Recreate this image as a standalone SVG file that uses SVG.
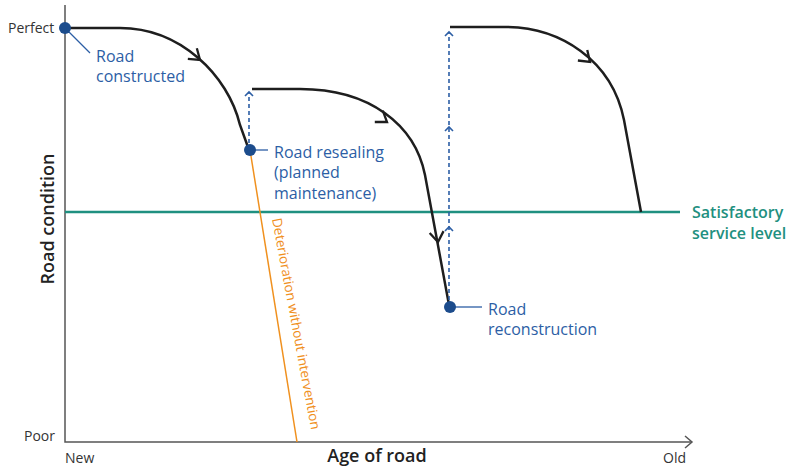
<svg xmlns="http://www.w3.org/2000/svg" xmlns:xlink="http://www.w3.org/1999/xlink" width="789" height="467" viewBox="0 0 789 467">
<style>
text{font-family:"Open Sans","Noto Sans","Liberation Sans",sans-serif}
.ax{fill:none;stroke:#555;stroke-width:1.5}
.lab{fill:#333;font-size:14px}
.blue{fill:#2c5ea5;font-size:16px}
.curve{fill:none;stroke:#1e1e1e;stroke-width:2.5}
.dash{fill:none;stroke:#2c5ea5;stroke-width:1.6;stroke-dasharray:4 3}
.dchev{fill:none;stroke:#2c5ea5;stroke-width:1.6}
.lead{fill:none;stroke:#2c5ea5;stroke-width:1.3}
.dot{fill:#1c4c8c}
.title{fill:#222;font-size:18px;font-weight:600}
.green{fill:#1f9080;font-size:16px;font-weight:600}
</style>
<defs>
<path id="chev" d="M-10,-7 L0,0 L-10,7" fill="none" stroke="#1e1e1e" stroke-width="2.3"/>
<path id="upchev" d="M-4,4 L0,0 L4,4" class="dchev"/>
</defs>
<g id="axes">
<path class="ax" d="M65,5 L65,442 L692,442"/>
<path class="ax" d="M685,436 L692,442 L685,448"/>
<text class="lab" x="8" y="33">Perfect</text>
<text class="lab" x="24" y="441">Poor</text>
<text class="lab" x="65" y="463">New</text>
<text class="lab" x="663" y="463">Old</text>
<text class="title" x="377" y="462" text-anchor="middle">Age of road</text>
<text class="title" transform="translate(54,219) rotate(-90)" text-anchor="middle">Road condition</text>
</g>
<g id="service-level">
<path d="M65,212 L680,212" fill="none" stroke="#1f9080" stroke-width="2.5"/>
<text class="green" x="692" y="218">Satisfactory</text>
<text class="green" x="692" y="239">service level</text>
</g>
<g id="deterioration">
<path d="M250,150 L297,442" fill="none" stroke="#f0901e" stroke-width="1.5"/>
<text transform="translate(272,219) rotate(79.5)" fill="#f0901e" font-size="13.4">Deterioration without intervention</text>
</g>
<g id="connectors">
<path class="curve" d="M65,28 L120,28 C180,28 228,75 240,125 L249,150"/>
<path class="curve" d="M252,89 L300,89 C370,89 415,125 425,175 L449,305"/>
<path class="curve" d="M450,27 L505,27 C560,27 612,60 624,120 L641,212"/>
<use xlink:href="#chev" transform="translate(200,60) rotate(40)"/>
<use xlink:href="#chev" transform="translate(387,122) rotate(35)"/>
<use xlink:href="#chev" transform="translate(438,242) rotate(82)"/>
<use xlink:href="#chev" transform="translate(590,62) rotate(42)"/>
<path class="dash" d="M249,150 L249,93"/>
<path class="dash" d="M449,307 L449,33"/>
<use xlink:href="#upchev" transform="translate(249,92)"/>
<use xlink:href="#upchev" transform="translate(449,32)"/>
<use xlink:href="#upchev" transform="translate(449,127)"/>
<use xlink:href="#upchev" transform="translate(449,227)"/>
</g>
<g id="road-constructed">
<path class="lead" d="M67,30 L90,53"/>
<circle class="dot" cx="65" cy="28" r="6"/>
<text class="blue" x="96" y="62">Road</text>
<text class="blue" x="96" y="82">constructed</text>
</g>
<g id="road-resealing">
<path class="lead" d="M255,150 L268,150"/>
<circle class="dot" cx="250" cy="150" r="6"/>
<text class="blue" x="274" y="158">Road resealing</text>
<text class="blue" x="274" y="178">(planned</text>
<text class="blue" x="274" y="199">maintenance)</text>
</g>
<g id="road-reconstruction">
<path class="lead" d="M455,307 L482,307"/>
<circle class="dot" cx="450" cy="307" r="6"/>
<text class="blue" x="488" y="315">Road</text>
<text class="blue" x="488" y="335">reconstruction</text>
</g>
</svg>
